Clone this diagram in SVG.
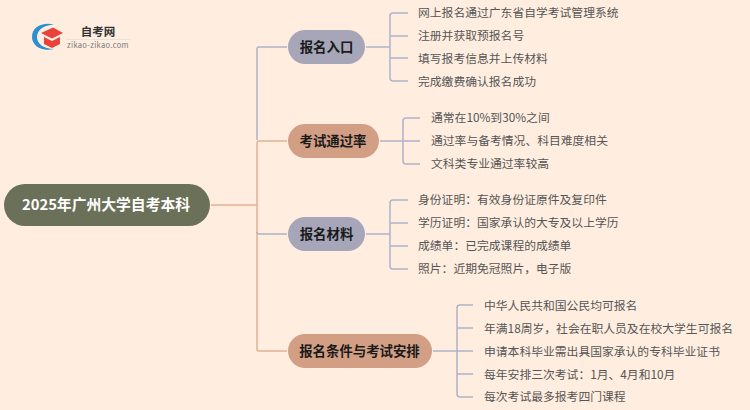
<svg xmlns="http://www.w3.org/2000/svg" width="750" height="410" viewBox="0 0 750 410">
<style>
text{font-family:"Noto Sans CJK SC","Noto Sans",sans-serif}
.leaf{font-size:11.800px;fill:#555}
.br{font-size:13.400px;font-weight:700;fill:#1a1a1a;text-anchor:middle}
.c{fill:none;stroke-width:1.5}
.b{stroke:#aeb2c9}
.o{stroke:#e2b094}
</style>
<rect width="750" height="410" fill="#ffeee0"/>
<g id="logo">
<path d="M54 24.500C42 22 32 27 32 37C32 46 42 52 54 49C44 49 37 44 37 37C37 30 44 25 54 24.500Z" fill="#2c8fd0"/>
<path d="M41 33L53 27.500L63 33L52 38.500Z" fill="#e8423a"/>
<path d="M44 37L52 41L60 37V44L52 48L44 44Z" fill="#e8423a"/>
<text x="98" y="36" font-size="11.500" font-weight="700" fill="#333" text-anchor="middle">自考网</text>
<path d="M66 39.500H131" stroke="#e8e4dc" stroke-width="1"/>
<text x="98" y="48" font-size="7.500" fill="#777" text-anchor="middle" letter-spacing=".35">zikao-zikao.com</text>
</g>
<g id="connectors">
<path class="c o" d="M211 205H257"/>
<path class="c b" d="M287 47H259Q257 47 257 49V140"/>
<path class="c o" d="M287 141H259Q257 141 257 143V349Q257 351 259 351H287"/>
<path class="c b" d="M257 232Q257 234 259 234H287"/>
<path class="c b" d="M366 47H390M408 13H393Q390 13 390 16V78Q390 81 393 81H408M390 36H408M390 58H408"/>
<path class="c b" d="M380 141H403M420 118H406Q403 118 403 121V161Q403 164 406 164H420M403 141H420"/>
<path class="c b" d="M366 234H390M408 200H393Q390 200 390 203V266Q390 269 393 269H408M390 223H408M390 246H408"/>
<path class="c b" d="M433 351H457M473 305H460Q457 305 457 308V394Q457 397 460 397H473M457 328H473M457 351H473M457 374H473"/>
</g>
<g id="root"><rect x="4" y="184" width="206" height="42" rx="21" fill="#6b7059"/><text x="106" y="210" font-size="14.800" font-weight="700" fill="#fff" text-anchor="middle">2025年广州大学自考本科</text></g>
<g id="b1"><rect x="288" y="30" width="77" height="34" rx="17" fill="#a7a6b9"/><text class="br" x="326.500" y="52">报名入口</text></g>
<g id="b2"><rect x="288" y="124" width="91" height="34" rx="17" fill="#d29f85"/><text class="br" x="333" y="146">考试通过率</text></g>
<g id="b3"><rect x="288" y="217" width="77" height="34" rx="17" fill="#a7a6b9"/><text class="br" x="326.500" y="239">报名材料</text></g>
<g id="b4"><rect x="288" y="334" width="144" height="34" rx="17" fill="#d29f85"/><text class="br" x="359.500" y="356">报名条件与考试安排</text></g>
<g id="leaves1"><text class="leaf" x="418" y="17">网上报名通过广东省自学考试管理系统</text><text class="leaf" x="418" y="40">注册并获取预报名号</text><text class="leaf" x="418" y="63">填写报考信息并上传材料</text><text class="leaf" x="418" y="86">完成缴费确认报名成功</text></g>
<g id="leaves2"><text class="leaf" x="431" y="122">通常在10%到30%之间</text><text class="leaf" x="431" y="145">通过率与备考情况、科目难度相关</text><text class="leaf" x="431" y="168">文科类专业通过率较高</text></g>
<g id="leaves3"><text class="leaf" x="418" y="204">身份证明：有效身份证原件及复印件</text><text class="leaf" x="418" y="227">学历证明：国家承认的大专及以上学历</text><text class="leaf" x="418" y="250">成绩单：已完成课程的成绩单</text><text class="leaf" x="418" y="273">照片：近期免冠照片，电子版</text></g>
<g id="leaves4"><text class="leaf" x="484" y="310">中华人民共和国公民均可报名</text><text class="leaf" x="484" y="333">年满18周岁，社会在职人员及在校大学生可报名</text><text class="leaf" x="484" y="356">申请本科毕业需出具国家承认的专科毕业证书</text><text class="leaf" x="484" y="379">每年安排三次考试：1月、4月和10月</text><text class="leaf" x="484" y="401">每次考试最多报考四门课程</text></g>
</svg>
